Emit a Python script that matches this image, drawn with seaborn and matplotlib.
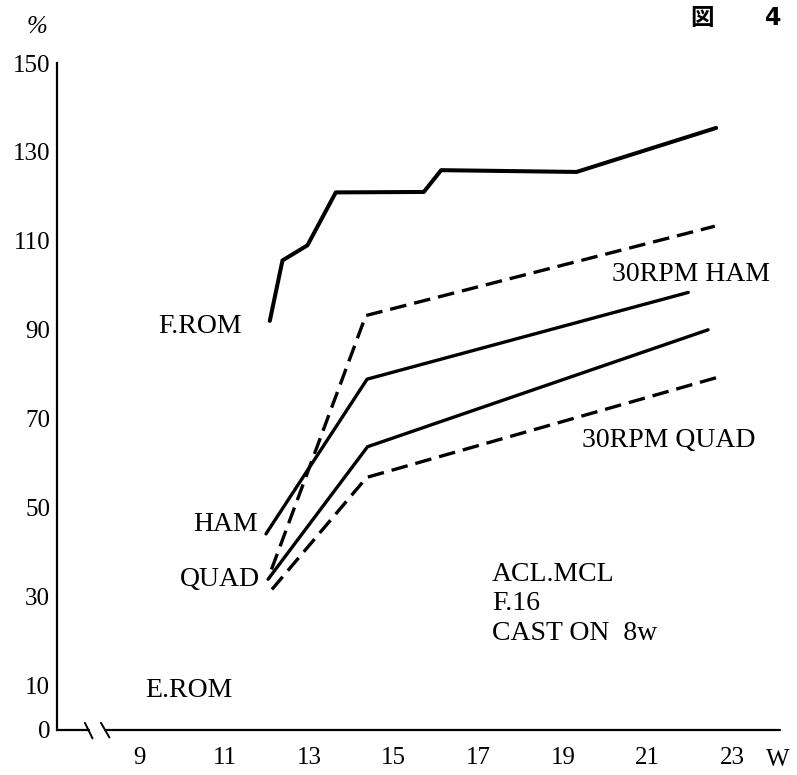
import matplotlib
matplotlib.use('Agg')
import matplotlib.pyplot as plt
import seaborn as sns
import pandas as pd

# values (weeks, % of control)
from_w = [12.07, 12.37, 12.96, 13.63, 15.71, 16.12, 19.32, 22.62]
from_pct = [92.0, 105.6, 109.0, 120.9, 121.0, 125.9, 125.5, 135.4]

ham_w = [11.98, 14.37, 21.96]
ham_pct = [44.1, 78.9, 98.4]

quad_w = [12.03, 14.38, 22.43]
quad_pct = [33.9, 63.7, 90.0]

ham30_w = [12.11, 14.34, 22.59]
ham30_pct = [36.1, 93.2, 113.3]

quad30_w = [12.12, 14.36, 22.65]
quad30_pct = [31.6, 56.8, 79.3]

x_ticks = [9, 11, 13, 15, 17, 19, 21, 23]
y_ticks = [0, 10, 30, 50, 70, 90, 110, 130, 150]

sns.set_style('white')
plt.rcParams['font.family'] = ['Liberation Serif', 'DejaVu Serif']
plt.rcParams['text.color'] = 'black'
plt.rcParams['xtick.color'] = 'black'
plt.rcParams['ytick.color'] = 'black'

fig = plt.figure(figsize=(7.97, 7.75), dpi=100)
ax = fig.add_axes([0.0715, 0.0581, 0.9072, 0.8606])

solid = dict(color='black', linewidth=2.4, sort=False, estimator=None)
dashed = dict(color='black', linewidth=2.4, sort=False, estimator=None,
              linestyle=(0, (5, 2.4)))

sns.lineplot(x=from_w, y=from_pct, ax=ax, **dict(solid, linewidth=2.9))
sns.lineplot(x=ham_w, y=ham_pct, ax=ax, **solid)
sns.lineplot(x=quad_w, y=quad_pct, ax=ax, **solid)
sns.lineplot(x=ham30_w, y=ham30_pct, ax=ax, **dashed)
sns.lineplot(x=quad30_w, y=quad30_pct, ax=ax, **dashed)

ax.set_xlim(7.04, 24.13)
ax.set_ylim(0, 150)
ax.set_xticks(x_ticks)
ax.set_xticklabels([str(v) for v in x_ticks])
ax.set_yticks(y_ticks)
ax.set_yticklabels([str(v) for v in y_ticks])
ax.tick_params(axis='both', labelsize=18, length=0)
ax.tick_params(axis='x', pad=12)
ax.tick_params(axis='y', pad=5)
ax.set_xlabel('')
ax.set_ylabel('')

for s in ['top', 'right', 'bottom']:
    ax.spines[s].set_visible(False)
ax.spines['left'].set_linewidth(1.6)
ax.spines['left'].set_color('black')

# broken x axis
ax.plot([7.04, 7.80], [0, 0], color='black', lw=1.6, clip_on=False)
ax.plot([8.17, 24.13], [0, 0], color='black', lw=1.6, clip_on=False)
ax.plot([7.70, 7.88], [1.6, -1.9], color='black', lw=1.4, clip_on=False)
ax.plot([8.08, 8.28], [1.6, -1.7], color='black', lw=1.4, clip_on=False)

fs = 20
ax.text(9.43, 90.7, 'F.ROM', fontsize=fs, ha='left', va='center')
ax.text(11.79, 46.1, 'HAM', fontsize=fs, ha='right', va='center')
ax.text(11.84, 33.9, 'QUAD', fontsize=fs, ha='right', va='center')
ax.text(20.16, 102.5, '30RPM HAM', fontsize=fs, ha='left', va='center')
ax.text(19.45, 65.1, '30RPM QUAD', fontsize=fs, ha='left', va='center')
ax.text(17.32, 28.4, 'ACL.MCL\nF.16\nCAST ON  8w', fontsize=fs,
        ha='left', va='center', linespacing=1.24)
ax.text(9.12, 8.9, 'E.ROM', fontsize=fs, ha='left', va='center')

fig.text(778 / 797, 1 - 760 / 775, 'W', fontsize=18, ha='center', va='center')
fig.text(37 / 797, 1 - 27 / 775, '%', fontsize=18, ha='center', va='center',
         style='italic')
fig.text(702 / 797, 1 - 18 / 775, '図', fontsize=17, ha='center', va='center',
         family=['Noto Sans CJK JP', 'DejaVu Sans'], weight='bold')
fig.text(773 / 797, 1 - 18 / 775, '4', fontsize=17, ha='center', va='center',
         family=['DejaVu Sans'], weight='bold')

fig.savefig('out.png', dpi=100)
